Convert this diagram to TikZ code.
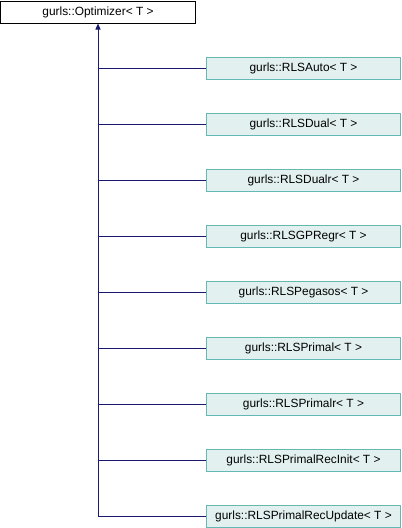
\documentclass[tikz,border=0pt]{standalone}
\usepackage{fontspec}
\setmainfont{Liberation Sans}
\usetikzlibrary{arrows.meta}
\definecolor{edgeblue}{RGB}{25,25,112}
\definecolor{childfill}{RGB}{226,241,240}
\definecolor{childline}{RGB}{99,185,177}

\begin{document}
\begin{tikzpicture}[x=1pt,y=1pt,
  base/.style={draw=black, fill=white, line width=1pt, minimum width=195pt,
    minimum height=22pt, inner sep=0pt, font=\fontsize{11.9}{14}\selectfont},
  derived/.style={base, draw=childline, fill=childfill, minimum width=194pt},
  inherit/.style={draw=edgeblue, line width=1pt}]
  \useasboundingbox (0,0) rectangle (402,-528);
  \node[base] (opt) at (98,-12) {gurls::Optimizer< T >};
  \foreach \cls [count=\i from 0] in {RLSAuto,RLSDual,RLSDualr,RLSGPRegr,RLSPegasos,
      RLSPrimal,RLSPrimalr,RLSPrimalRecInit,RLSPrimalRecUpdate}{
    \node[derived] (c\i) at (303.5,{-68-56*\i}) {gurls::\cls< T >};
    \draw[inherit] (c\i.west) -- (c\i.west -| opt.south);
  }
  \draw[inherit,-{Triangle[length=6pt,width=5pt]}] (c8.west -| opt.south) -- (opt.south);
\end{tikzpicture}
\end{document}
